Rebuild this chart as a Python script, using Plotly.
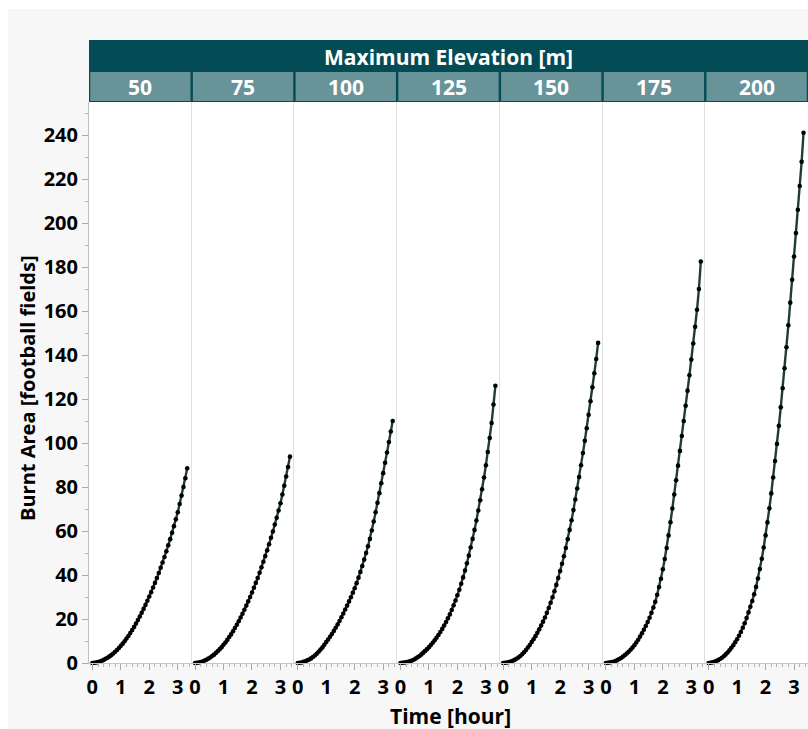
import plotly.graph_objects as go
from plotly.subplots import make_subplots

# ---------------- data ----------------
ELEVATIONS = ["50", "75", "100", "125", "150", "175", "200"]

TIME_MIN = [0, 4, 8, 12, 16, 20, 24, 28, 32, 36, 40, 44, 48, 52, 56, 60, 64, 68, 72, 76,
            80, 84, 88, 92, 96, 100, 104, 108, 112, 116, 120, 124, 128, 132, 136, 140,
            144, 148, 152, 156, 160, 164, 168, 172, 176, 180, 184, 188, 192, 196, 200]

AREA_50 = [0, 0.1, 0.2, 0.4, 0.7, 1.0, 1.4, 1.9, 2.4, 3.0, 3.6,
           4.3, 5.1, 5.9, 6.8, 7.8, 8.8, 9.9, 11.1, 12.3, 13.6,
           15.0, 16.4, 17.9, 19.5, 21.1, 22.8, 24.6, 26.4, 28.3, 30.2,
           32.2, 34.3, 36.4, 38.6, 40.9, 43.3, 45.7, 48.2, 50.8, 53.5,
           56.3, 59.2, 62.2, 65.3, 68.5, 72.3, 76.1, 80.0, 84.0, 88.5]

AREA_75 = [0, 0.1, 0.2, 0.4, 0.7, 1.1, 1.5, 2.0, 2.5, 3.2, 3.8,
           4.6, 5.4, 6.3, 7.2, 8.3, 9.3, 10.5, 11.8, 13.0, 14.4,
           15.9, 17.4, 19.0, 20.7, 22.4, 24.2, 26.1, 28.0, 30.0, 32.0,
           34.2, 36.4, 38.6, 41.0, 43.5, 46.0, 48.6, 51.2, 54.0, 56.9,
           59.8, 62.9, 66.0, 69.3, 72.6, 76.6, 80.6, 84.8, 89.1, 93.8]

AREA_100 = [0, 0.1, 0.2, 0.5, 0.8, 1.2, 1.6, 2.1, 2.7, 3.4, 4.2,
            5.1, 6.1, 7.1, 8.3, 9.5, 10.7, 11.9, 13.2, 14.6, 16.0,
            17.5, 19.1, 20.8, 22.5, 24.3, 26.1, 28.0, 29.9, 31.9, 34.0,
            36.3, 38.8, 41.4, 44.1, 47.0, 50.0, 53.1, 56.4, 60.2, 64.3,
            68.5, 72.8, 77.2, 81.7, 86.3, 91.0, 95.7, 100.4, 105.2, 110.0]

AREA_125 = [0, 0.1, 0.2, 0.3, 0.5, 0.8, 1.1, 1.5, 2.0, 2.6, 3.2,
            3.9, 4.7, 5.5, 6.3, 7.2, 8.2, 9.2, 10.3, 11.5, 12.7,
            14.1, 15.5, 17.0, 18.6, 20.3, 22.1, 24.1, 26.2, 28.4, 30.8,
            33.3, 36.0, 38.9, 42.0, 45.3, 48.8, 52.5, 56.4, 60.5, 64.8,
            69.3, 74.0, 79.0, 84.3, 89.9, 95.9, 102.3, 109.1, 117.5, 126.0]

AREA_150 = [0, 0.1, 0.2, 0.4, 0.7, 1.0, 1.4, 1.9, 2.5, 3.2, 4.0,
            4.9, 5.9, 7.0, 8.2, 9.5, 10.8, 12.2, 13.7, 15.3, 17.0,
            18.8, 20.7, 22.8, 25.0, 27.4, 29.9, 32.6, 35.5, 38.6, 41.8,
            45.1, 48.5, 52.3, 56.3, 60.5, 64.9, 69.5, 74.3, 79.3, 84.5,
            89.9, 95.4, 101.0, 106.7, 112.8, 119.0, 125.3, 131.7, 138.2, 145.5]

AREA_175 = [0, 0.1, 0.2, 0.4, 0.6, 0.9, 1.3, 1.8, 2.3, 2.9, 3.6,
            4.3, 5.1, 6.0, 7.0, 8.1, 9.3, 10.6, 12.0, 13.5, 15.1,
            16.8, 18.6, 20.6, 22.8, 25.2, 27.8, 31.0, 34.5, 38.3, 42.6,
            47.3, 52.3, 58.0, 64.0, 70.2, 76.6, 83.1, 89.7, 96.4, 103.2,
            110.0, 116.9, 123.8, 130.8, 137.9, 145.2, 152.8, 160.6, 170.0, 182.5]

AREA_200 = [0, 0.1, 0.3, 0.5, 0.9, 1.3, 1.8, 2.4, 3.1, 3.9, 4.8,
            5.8, 6.9, 8.1, 9.4, 10.8, 12.4, 14.1, 16.0, 18.1, 20.4,
            23.0, 25.6, 28.2, 31.2, 34.6, 38.4, 42.7, 47.4, 52.5, 58.0,
            63.9, 70.3, 77.1, 84.3, 91.8, 99.6, 107.8, 116.2, 124.9, 134.0,
            143.5, 153.5, 163.8, 174.2, 184.8, 195.4, 206.0, 216.8, 227.8, 241.0]

SERIES = [AREA_50, AREA_75, AREA_100, AREA_125, AREA_150, AREA_175, AREA_200]

X_TICKS = [0, 1, 2, 3]
Y_TICKS = [0, 20, 40, 60, 80, 100, 120, 140, 160, 180, 200, 220, 240]

HEADER_TITLE = "Maximum Elevation [m]"
X_TITLE = "Time [hour]"
Y_TITLE = "Burnt Area [football fields]"

# ---------------- geometry ----------------
W, H = 808, 729
ML, MR, MT, MB = 89, 0, 102, 66
PW = W - ML - MR
PH = H - MT - MB
N = len(ELEVATIONS)


def px_x(px):
    return (px - ML) / PW


def px_y(py):
    return (H - MB - py) / PH


FONT = "Open Sans"
tickfont = dict(family=FONT, size=20, color="#000000", weight="bold")
titlefont = dict(family=FONT, size=21, color="#000000", weight="bold")
headfont = dict(family=FONT, size=21, color="#ffffff", weight="bold")

fig = make_subplots(rows=1, cols=N, shared_yaxes=True, horizontal_spacing=0)

time_h = [m / 60 for m in TIME_MIN]
for i, area in enumerate(SERIES):
    fig.add_trace(
        go.Scatter(
            x=time_h, y=area, mode="lines+markers",
            line=dict(color="#1f3d37", width=2.4),
            marker=dict(color="#000000", size=4.6),
            cliponaxis=False, showlegend=False, hoverinfo="skip",
        ),
        row=1, col=i + 1,
    )

for i in range(N):
    fig.update_xaxes(
        row=1, col=i + 1,
        range=[-0.117, 3.49], tickvals=X_TICKS, ticktext=[str(v) for v in X_TICKS],
        ticks="outside", ticklen=6, tickwidth=1, tickcolor="#a8a8a8",
        showline=True, linecolor="#c6c6c6", linewidth=1,
        showgrid=False, zeroline=False, tickfont=tickfont,
        minor=dict(dtick=0.2, tick0=0, ticks="outside", ticklen=3,
                   tickcolor="#b4b4b4", showgrid=False),
    )
    if i == 0:
        fig.update_yaxes(
            row=1, col=1,
            range=[0, 255], tickvals=Y_TICKS, ticks="outside", ticklen=6,
            tickwidth=1, tickcolor="#a8a8a8",
            showline=True, linecolor="#c0c0c0", linewidth=1,
            showgrid=False, zeroline=False, tickfont=tickfont,
            minor=dict(dtick=10, tick0=0, ticks="outside", ticklen=3,
                       tickcolor="#b4b4b4", showgrid=False),
        )
    else:
        fig.update_yaxes(
            row=1, col=i + 1,
            range=[0, 255], ticks="", showticklabels=False,
            showline=True, linecolor="#e0e0e0", linewidth=1,
            showgrid=False, zeroline=False,
        )

shapes = []
# white outer strips (left and top)
shapes.append(dict(type="rect", xref="paper", yref="paper", layer="below",
                   x0=px_x(0), x1=px_x(8), y0=px_y(H), y1=px_y(0),
                   fillcolor="#ffffff", line=dict(width=0)))
shapes.append(dict(type="rect", xref="paper", yref="paper", layer="below",
                   x0=px_x(0), x1=px_x(W), y0=px_y(9), y1=px_y(0),
                   fillcolor="#ffffff", line=dict(width=0)))
# header dark band
shapes.append(dict(type="rect", xref="paper", yref="paper",
                   x0=0, x1=1.01, y0=1.0, y1=px_y(40),
                   fillcolor="#034c56", line=dict(width=0)))
# header cells
for i in range(N):
    shapes.append(dict(type="rect", xref="paper", yref="paper",
                       x0=i / N + 1.2 / PW, x1=(i + 1) / N - 1.2 / PW,
                       y0=px_y(101), y1=px_y(72),
                       fillcolor="#679399", line=dict(width=0)))

annotations = []
annotations.append(dict(text=HEADER_TITLE, xref="paper", yref="paper",
                        x=0.5, y=px_y(56.5), xanchor="center", yanchor="middle",
                        showarrow=False, font=headfont))
for i, lab in enumerate(ELEVATIONS):
    annotations.append(dict(text=lab, xref="paper", yref="paper",
                            x=(i + 0.5) / N, y=px_y(87.5), xanchor="center", yanchor="middle",
                            showarrow=False, font=headfont))
annotations.append(dict(text=X_TITLE, xref="paper", yref="paper",
                        x=px_x(450), y=px_y(716), xanchor="center", yanchor="middle",
                        showarrow=False, font=titlefont))
annotations.append(dict(text=Y_TITLE, xref="paper", yref="paper",
                        x=px_x(27), y=px_y(388), xanchor="center", yanchor="middle",
                        textangle=-90, showarrow=False,
                        font=dict(family=FONT, size=20, color="#000000", weight="bold")))

fig.update_layout(
    width=W, height=H,
    margin=dict(l=ML, r=MR, t=MT, b=MB, pad=0),
    paper_bgcolor="#f7f7f7", plot_bgcolor="#ffffff",
    shapes=shapes, annotations=annotations,
    showlegend=False,
)

fig.write_html("out.html")
